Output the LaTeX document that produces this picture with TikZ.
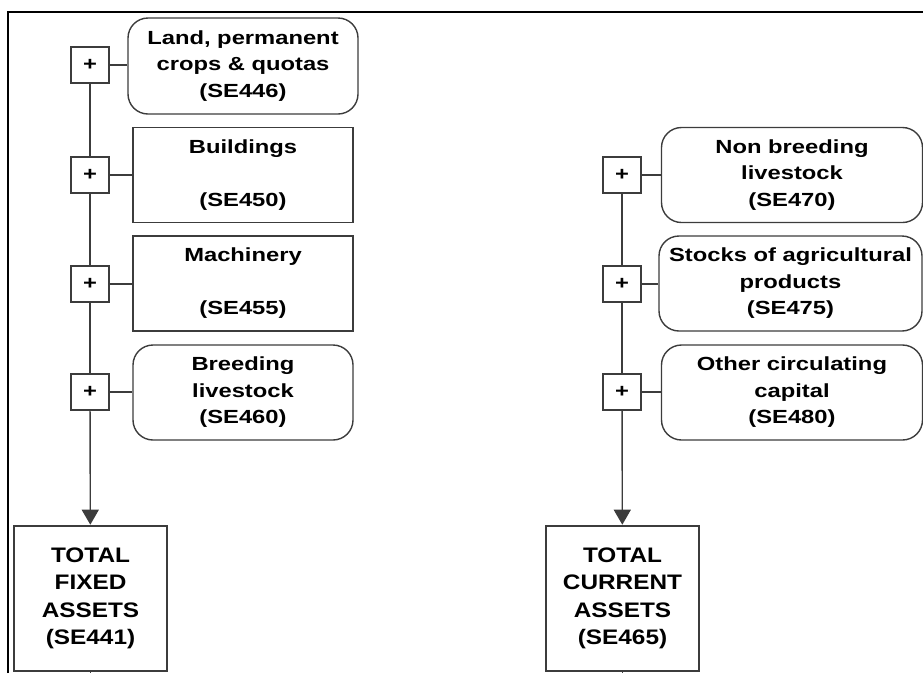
\documentclass[tikz,border=0pt]{standalone}
\usepackage{fontspec}
\setmainfont{Liberation Sans}
\newfontfamily\boxfont[FakeStretch=1.25]{Liberation Sans}
\newfontfamily\totalfont[FakeStretch=1.16]{Liberation Sans}
\usetikzlibrary{arrows.meta}

\definecolor{linegray}{RGB}{60,60,60}

\tikzset{
  plusbox/.style={draw=linegray, line width=1.4pt, minimum width=38pt, minimum height=36pt, inner sep=0pt, font=\boxfont\fontsize{19}{19}\selectfont\bfseries},
  itembox/.style={draw=linegray, line width=1.4pt, minimum width=220pt, minimum height=95pt, inner sep=0pt, align=center, font=\boxfont\fontsize{19}{26.5}\selectfont\bfseries},
  roundbox/.style={itembox, rounded corners=20pt},
  totalbox/.style={draw=linegray, line width=2.6pt, minimum width=153pt, minimum height=145pt, inner sep=0pt, align=center, font=\totalfont\fontsize{21}{27.5}\selectfont\bfseries},
  link/.style={draw=linegray, line width=1.4pt},
  sumlink/.style={link, -{Triangle[width=17pt,length=15pt]}}
}

\begin{document}
\begin{tikzpicture}[x=1pt,y=-1pt]
        \useasboundingbox (0,0) rectangle (923,673);
        \draw[line width=2pt] (8,673)--(8,12)--(923,12);

        % fixed assets
        \node[plusbox] (p1) at (90,65) {+};
        \node[plusbox] (p2) at (90,175) {+};
        \node[plusbox] (p3) at (90,284) {+};
        \node[plusbox] (p4) at (90,392) {+};

        \node[roundbox, minimum width=230pt, minimum height=96pt] (land) at (243,66) {Land, permanent\\crops \& quotas\\(SE446)};
        \node[itembox] (build) at (243,175) {Buildings\\ \\(SE450)};
        \node[itembox] (mach) at (243,283.5) {Machinery\\ \\(SE455)};
        \node[roundbox] (breed) at (243,392.5) {Breeding\\livestock\\(SE460)};

        \node[totalbox] (fixed) at (90.5,598.5) {TOTAL\\FIXED\\ASSETS\\(SE441)};
        \coordinate (fixedend) at (90.5,673);

        \draw[link] (p1)--(land.west |- p1);
        \draw[link] (p2)--(build);
        \draw[link] (p3)--(mach.west |- p3);
        \draw[link] (p4)--(breed.west |- p4);
        \draw[link] (p1)--(p2);
        \draw[link] (p2)--(p3);
        \draw[link] (p3)--(p4);
        \draw[sumlink] (p4)--(fixed);
        \draw[link] (fixed)--(fixedend);

        % current assets
        \node[plusbox] (q1) at (622,175) {+};
        \node[plusbox] (q2) at (622,284) {+};
        \node[plusbox] (q3) at (622,392) {+};

        \node[roundbox, minimum width=261pt] (nonbreed) at (792,175) {Non breeding\\livestock\\(SE470)};
        \node[roundbox, minimum width=263pt] (stocks) at (790.5,283.5) {Stocks of agricultural\\products\\(SE475)};
        \node[roundbox, minimum width=261pt] (other) at (792,392.5) {Other circulating\\capital\\(SE480)};

        \node[totalbox] (current) at (622.5,598.5) {TOTAL\\CURRENT\\ASSETS\\(SE465)};
        \coordinate (currentend) at (622.5,673);

        \draw[link] (q1)--(nonbreed.west |- q1);
        \draw[link] (q2)--(stocks.west |- q2);
        \draw[link] (q3)--(other.west |- q3);
        \draw[link] (q1)--(q2);
        \draw[link] (q2)--(q3);
        \draw[sumlink] (q3)--(current);
        \draw[link] (current)--(currentend);
\end{tikzpicture}
\end{document}
